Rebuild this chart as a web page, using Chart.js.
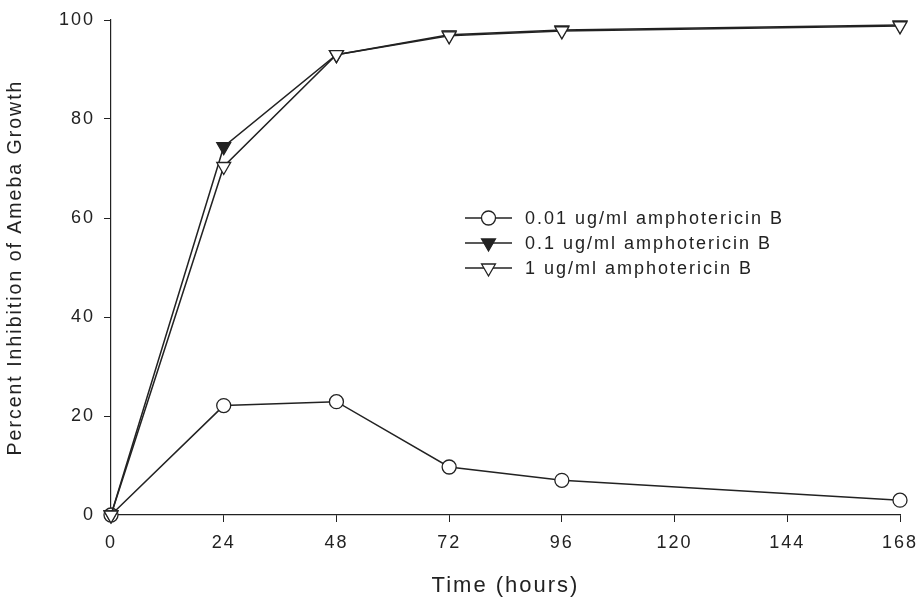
<!DOCTYPE html>
<html>
<head>
<meta charset="utf-8">
<script src="https://cdn.jsdelivr.net/npm/chart.js@4"></script>
<style>
  html, body { margin: 0; padding: 0; background: #fff; }
  #wrap { width: 921px; height: 603px; }
</style>
</head>
<body>
<div id="wrap"><canvas id="chart" width="921" height="603"></canvas></div>
<script>
// time points (hours)
const hours = [0, 24, 48, 72, 96, 168];
const xTicks = [0, 24, 48, 72, 96, 120, 144, 168];
const yTicks = [0, 20, 40, 60, 80, 100];

// percent inhibition
const low = [0, 22.1, 22.9, 9.7, 7.0, 3.0];      // 0.01 ug/ml
const mid = [0, 74.4, 93.0, 97.0, 98.0, 99.0];   // 0.1 ug/ml
const high = [0, 70.4, 93.0, 96.8, 97.8, 98.8];  // 1 ug/ml

const labels = ['0.01 ug/ml amphotericin B', '0.1 ug/ml amphotericin B', '1 ug/ml amphotericin B'];

const font = 'Liberation Sans, Arial, sans-serif';
const ink = '#222';

function pts(arr) {
    return hours.map((h, i) => ({ x: h, y: arr[i] }));
}

function drawMarker(ctx, ds, x, y) {
    ctx.save();
    ctx.lineWidth = ds.pointBorderWidth;
    ctx.fillStyle = ds.pointBackgroundColor;
    ctx.strokeStyle = ink;
    Chart.helpers.drawPoint(ctx, {
        pointStyle: ds.pointStyle,
        radius: ds.pointRadius,
        rotation: ds.pointRotation || 0,
        borderWidth: ds.pointBorderWidth
    }, x, y);
    ctx.restore();
}

// the scanned text is widely spaced
const spacingPlugin = {
    id: 'spacing',
    beforeUpdate(chart) { chart.ctx.letterSpacing = '2px'; },
    beforeDraw(chart) { chart.ctx.letterSpacing = '2px'; }
};

// legend drawn by hand: short line with the marker in the middle
const legendPlugin = {
    id: 'sampleLegend',
    afterDraw(chart) {
        let ctx = chart.ctx;
        let x0 = 465, x1 = 512, tx = 525;
        let rows = [218, 243, 268];
        chart.data.datasets.forEach((ds, i) => {
            let y = rows[i];
            ctx.save();
            ctx.strokeStyle = ink;
            ctx.lineWidth = 1.5;
            ctx.beginPath();
            ctx.moveTo(x0, y);
            ctx.lineTo(x1, y);
            ctx.stroke();
            drawMarker(ctx, ds, (x0 + x1) / 2, y);
            ctx.fillStyle = ink;
            ctx.font = '18px ' + font;
            ctx.letterSpacing = '2px';
            ctx.textBaseline = 'middle';
            ctx.fillText(ds.label, tx, y + 1);
            ctx.restore();
        });
    }
};

const ctx = document.getElementById('chart').getContext('2d');
const chart = new Chart(ctx, {
    type: 'line',
    data: {
        datasets: [{
            label: labels[0],
            data: pts(low),
            borderColor: ink,
            borderWidth: 1.5,
            pointStyle: 'circle',
            pointRadius: 7,
            pointBorderWidth: 1.3,
            pointBackgroundColor: '#fff',
            pointBorderColor: ink,
            order: 2
        }, {
            label: labels[1],
            data: pts(mid),
            borderColor: ink,
            borderWidth: 1.5,
            pointStyle: 'triangle',
            pointRotation: 180,
            pointRadius: 8,
            pointBorderWidth: 1.3,
            pointBackgroundColor: ink,
            pointBorderColor: ink,
            order: 1
        }, {
            label: labels[2],
            data: pts(high),
            borderColor: ink,
            borderWidth: 1.5,
            pointStyle: 'triangle',
            pointRotation: 180,
            pointRadius: 8,
            pointBorderWidth: 1.3,
            pointBackgroundColor: '#fff',
            pointBorderColor: ink,
            order: 0
        }]
    },
    options: {
        responsive: false,
        animation: false,
        clip: false,
        layout: { padding: { top: 20, right: 21, left: 0, bottom: 0 } },
        plugins: {
            legend: { display: false },
            tooltip: { enabled: false }
        },
        elements: { line: { tension: 0 } },
        scales: {
            x: {
                type: 'linear',
                min: 0,
                max: 168,
                afterBuildTicks: axis => { axis.ticks = xTicks.map(v => ({ value: v })); },
                afterFit: axis => { axis.height = 88; axis.paddingRight = 0; axis.paddingLeft = 0; },
                grid: { drawOnChartArea: false, drawTicks: true, tickLength: 7, color: ink, lineWidth: 1 },
                border: { display: true, color: ink, width: 1.2 },
                ticks: { color: ink, font: { family: font, size: 18 }, padding: 10, maxRotation: 0 },
                title: { display: true, text: 'Time (hours)', color: ink, font: { family: font, size: 22 }, padding: { top: 8 } }
            },
            y: {
                min: 0,
                max: 100,
                afterBuildTicks: axis => { axis.ticks = yTicks.map(v => ({ value: v })); },
                afterFit: axis => { axis.width = 111; axis.paddingTop = 0; axis.paddingBottom = 0; },
                grid: { drawOnChartArea: false, drawTicks: true, tickLength: 7, color: ink, lineWidth: 1 },
                border: { display: true, color: ink, width: 1.2 },
                ticks: { color: ink, font: { family: font, size: 18 }, padding: 9 },
                title: { display: true, text: 'Percent Inhibition of Ameba Growth', color: ink, font: { family: font, size: 19.5 }, padding: { bottom: 20 } }
            }
        }
    },
    plugins: [spacingPlugin, legendPlugin]
});
</script>
</body>
</html>
